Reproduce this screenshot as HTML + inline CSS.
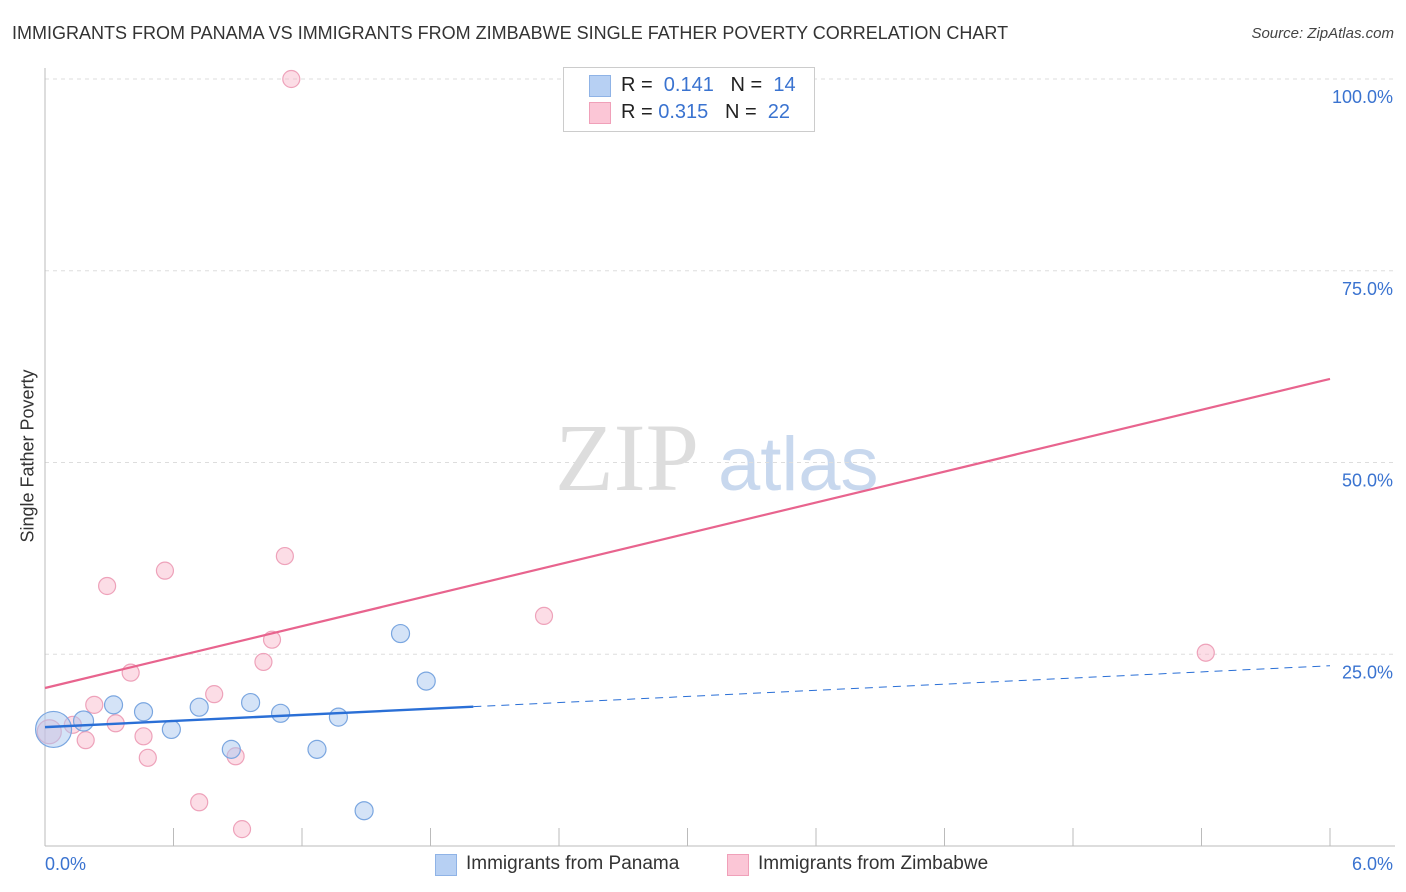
<!DOCTYPE html>
<html><head><meta charset="utf-8"><style>
body{margin:0;background:#fff;font-family:"Liberation Sans",sans-serif;}
#wrap{position:relative;width:1406px;height:892px;overflow:hidden;}
.t{position:absolute;white-space:nowrap;}
</style></head><body>
<div id="wrap">
<div class="t" style="left:12px;top:23px;font-size:18px;color:#333;">IMMIGRANTS FROM PANAMA VS IMMIGRANTS FROM ZIMBABWE SINGLE FATHER POVERTY CORRELATION CHART</div>
<div class="t" style="right:12px;top:25px;font-size:15px;color:#444;font-style:italic;">Source: ZipAtlas.com</div>
<div class="t" style="left:28px;top:456px;font-size:18px;color:#333;transform:translate(-50%,-50%) rotate(-90deg);">Single Father Poverty</div>
<svg id="svg" width="1406" height="892" style="position:absolute;left:0;top:0">
<text x="555" y="490" font-size="96" font-family="Liberation Serif" fill="#ddd">ZIP</text>
<text x="718" y="490" font-size="76" font-family="Liberation Sans" fill="#c8d8ee">atlas</text>
</svg>
<div class="t" style="left:563px;top:67px;width:250px;height:63px;border:1px solid #ccc;background:#fff;"></div>
<div class="t" style="left:589px;top:75px;width:20px;height:20px;background:#b7d0f3;border:1px solid #8fb3e6;"></div>
<div class="t" style="left:589px;top:102px;width:20px;height:20px;background:#fbc6d6;border:1px solid #f0a0b9;"></div>
<div class="t" style="left:621px;top:74px;font-size:20px;color:#222;">R = &nbsp;<span style="color:#3a73d0">0.141</span> &nbsp;&nbsp;N = &nbsp;<span style="color:#3a73d0">14</span></div>
<div class="t" style="left:621px;top:101px;font-size:20px;color:#222;">R = <span style="color:#3a73d0">0.315</span> &nbsp;&nbsp;N = &nbsp;<span style="color:#3a73d0">22</span></div>
<div class="t" style="left:435px;top:854px;width:20px;height:20px;background:#b7d0f3;border:1px solid #8fb3e6;"></div>
<div class="t" style="left:466px;top:853px;font-size:19px;color:#333;">Immigrants from Panama</div>
<div class="t" style="left:727px;top:854px;width:20px;height:20px;background:#fbc6d6;border:1px solid #f0a0b9;"></div>
<div class="t" style="left:758px;top:853px;font-size:19px;color:#333;">Immigrants from Zimbabwe</div>
</div>
<script>
const panamaX=[0.04,0.18,0.32,0.46,0.59,0.72,0.87,0.96,1.10,1.27,1.37,1.49,1.66,1.78];
const panamaY=[15.2,16.3,18.4,17.5,15.2,18.1,12.6,18.7,17.3,12.6,16.8,4.6,27.7,21.5];
const panamaR=[18,10,9,9,9,9,9,9,9,9,9,9,9,9];
const zimX=[0.02,0.13,0.19,0.23,0.29,0.33,0.40,0.46,0.48,0.56,0.72,0.79,0.89,0.92,1.02,1.06,1.12,1.15,2.33,2.55,5.42];
const zimY=[14.9,15.8,13.8,18.4,33.9,16.0,22.6,14.3,11.5,35.9,5.7,19.8,11.7,2.2,24.0,26.9,37.8,100,30.0,100,25.2];
const trendPanama=[15.5,23.5];
const trendZim=[20.6,60.9];
const panamaSolidEnd=2.0;
const xTicks=["0.0%","6.0%"];
const yTicks=[25,50,75,100];
const yTickLabels=["25.0%","50.0%","75.0%","100.0%"];

const svg=document.getElementById('svg');
const NS='http://www.w3.org/2000/svg';
const X0=45,X1=1330,Y0=846,Y100=79;
const sx=v=>X0+(v/6)*(X1-X0);
const sy=v=>Y0-(v/100)*(Y0-Y100);
function mk(tag,attrs){const e=document.createElementNS(NS,tag);for(const k in attrs)e.setAttribute(k,attrs[k]);svg.appendChild(e);return e;}

yTicks.forEach((t,i)=>{
 const g=mk('line',{x1:X0,x2:1395,y1:sy(t),y2:sy(t),stroke:'#ddd','stroke-dasharray':'4,4'});
 
 
 const tx=mk('text',{x:1393,y:sy(t)+24,'text-anchor':'end','font-size':18,fill:'#3a73d0'});
 tx.textContent=yTickLabels[i];
 
 
});
const ax=mk('line',{x1:X0,x2:X0,y1:68,y2:Y0,stroke:'#bbb'});


const bx=mk('line',{x1:X0,x2:1395,y1:Y0,y2:Y0,stroke:'#bbb'});


for(let i=1;i<=10;i++){
 const tk=mk('line',{x1:sx(i*0.6),x2:sx(i*0.6),y1:Y0-18,y2:Y0,stroke:'#bbb'});
 
 
}
const xl0=mk('text',{x:45,y:870,'font-size':18,fill:'#3a73d0'});xl0.textContent=xTicks[0];


const xl1=mk('text',{x:1393,y:870,'font-size':18,fill:'#3a73d0','text-anchor':'end'});xl1.textContent=xTicks[1];



zimX.forEach((x,i)=>{
 const c=mk('circle',{cx:sx(x),cy:sy(zimY[i]),r:i==0?12:8.5,fill:'rgba(248,180,200,0.45)',stroke:'#eea2ba','stroke-width':1.2});
 
 
});
panamaX.forEach((x,i)=>{
 const c=mk('circle',{cx:sx(x),cy:sy(panamaY[i]),r:panamaR[i],fill:'rgba(170,200,240,0.5)',stroke:'#7aa6e0','stroke-width':1.2});
 
 
});
const ty=(a,x)=>a[0]+(a[1]-a[0])*x/6;
const lp=mk('line',{x1:sx(0),y1:sy(ty(trendZim,0)),x2:sx(6),y2:sy(ty(trendZim,6)),stroke:'#e8648e','stroke-width':2.2});


const lb=mk('line',{x1:sx(0),y1:sy(ty(trendPanama,0)),x2:sx(panamaSolidEnd),y2:sy(ty(trendPanama,panamaSolidEnd)),stroke:'#2a6fd6','stroke-width':2.4});


const ld=mk('line',{x1:sx(panamaSolidEnd),y1:sy(ty(trendPanama,panamaSolidEnd)),x2:sx(6),y2:sy(ty(trendPanama,6)),stroke:'#2a6fd6','stroke-width':1,'stroke-dasharray':'8,6'});


</script>
</body></html>
